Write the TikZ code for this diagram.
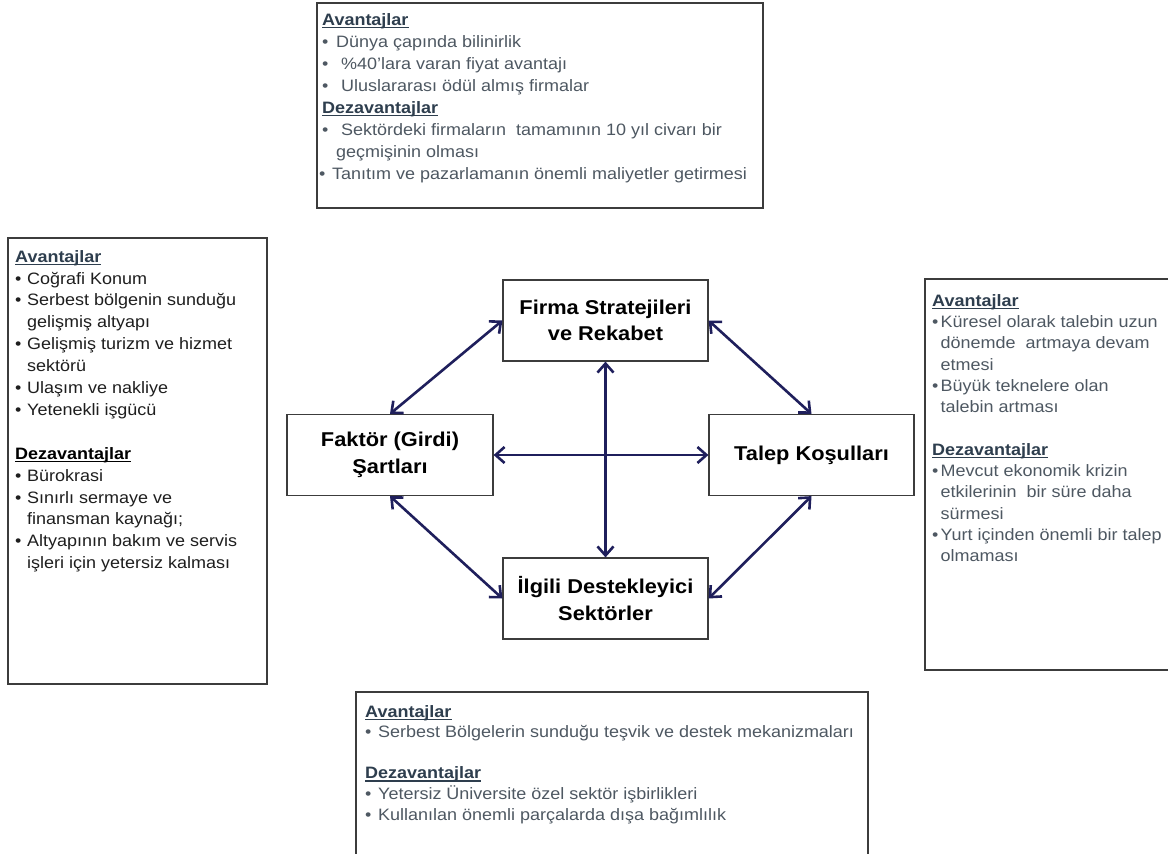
\documentclass[tikz,border=0pt]{standalone}
\usepackage{fontspec}
\setmainfont{Liberation Sans}[FakeStretch=1.09]
\usetikzlibrary{arrows.meta}

\definecolor{navy}{RGB}{31,31,92}
\definecolor{framec}{RGB}{60,60,60}
\definecolor{headc}{RGB}{46,62,78}
\definecolor{itemgray}{RGB}{78,88,98}
\definecolor{itemdark}{RGB}{30,30,30}

% bullet item helpers; \bw is set globally before each note block
\newcommand{\bw}{12pt}
\newcommand{\bul}{\makebox[\bw][l]{•}}
\newcommand{\hang}{\hspace*{\bw}}
\newsavebox{\headbox}
\newcommand{\head}[1]{\sbox{\headbox}{\bfseries #1}\rlap{\rule[-2.6pt]{\wd\headbox}{1.2pt}}\usebox{\headbox}}

\begin{document}
\begin{tikzpicture}[x=1pt,y=-1pt,
  frame/.style={draw=framec,line width=1.3pt},
  core/.style={draw=framec,line width=1.2pt,minimum width=205pt,minimum height=81pt,
    inner sep=0pt,align=center,font=\fontsize{20}{26.5}\selectfont\bfseries},
  link/.style={draw=navy,line width=2.6pt,
    {Straight Barb[length=9pt,width=16pt]}-{Straight Barb[length=9pt,width=16pt]}},
  notes/.style={anchor=north west,inner sep=0pt,align=left}
]
\useasboundingbox (0,0) rectangle (1168,854);
\fill[white] (0,0) rectangle (1168,854);

% the four determinants
\node[core] (firma)  at (605.5,320.5) {Firma Stratejileri\\ve Rekabet};
\node[core,minimum width=206pt] (faktor) at (390,455) {Faktör (Girdi)\\Şartları};
\node[core] (talep)  at (811.5,455) {Talep Koşulları};
\node[core] (ilgili) at (605.5,598.5) {İlgili Destekleyici\\Sektörler};

% mutual links
\draw[link] (firma.west)  -- (faktor.north);
\draw[link] (firma.east)  -- (talep.north);
\draw[link] (faktor.south) -- (ilgili.west);
\draw[link] (talep.south) -- (ilgili.east);
\draw[link] (faktor.east) -- (talep.west);
\draw[link] (firma.south) -- (ilgili.north);

% note frames
\draw[frame] (317,3) rectangle (763,208);
\draw[frame] (8,238) rectangle (267,684);
\draw[frame] (925,279) rectangle (1180,670);
\draw[frame] (356,692) rectangle (868,870);

% firm strategy notes
\gdef\bw{14pt}
\node[notes,font=\fontsize{16.5}{22.1}\selectfont,text=itemgray] (topnotes) at (322,13) {%
  \textcolor{headc}{\head{Avantajlar}}\\
  \bul Dünya çapında bilinirlik\\
  \bul\ \%40’lara varan fiyat avantajı\\
  \bul\ Uluslararası ödül almış firmalar\\
  \textcolor{headc}{\head{Dezavantajlar}}\\
  \bul\ Sektördeki firmaların\ \ tamamının\ 10 yıl civarı bir\\
  \hang geçmişinin olması\\
  \hspace*{-3pt}\makebox[13pt][l]{•}Tanıtım\ ve\ pazarlamanın önemli maliyetler getirmesi};

% factor condition notes
\gdef\bw{12pt}
\node[notes,font=\fontsize{16.5}{21.9}\selectfont,text=itemdark] (leftnotes) at (15,250) {%
  \textcolor{headc}{\head{Avantajlar}}\\
  \bul Coğrafi Konum\\
  \bul Serbest bölgenin sunduğu\\
  \hang gelişmiş\ altyapı\\
  \bul Gelişmiş\ turizm ve hizmet\\
  \hang sektörü\\
  \bul Ulaşım\ ve\ nakliye\\
  \bul Yetenekli\ işgücü\\[21.9pt]
  \textcolor{black}{\head{Dezavantajlar}}\\
  \bul Bürokrasi\\
  \bul Sınırlı sermaye ve\\
  \hang finansman kaynağı;\\
  \bul Altyapının bakım ve servis\\
  \hang işleri için yetersiz kalması};

% demand condition notes
\gdef\bw{8.5pt}
\node[notes,font=\fontsize{16.5}{21.3}\selectfont,text=itemgray] (rightnotes) at (932,294) {%
  \textcolor{headc}{\head{Avantajlar}}\\
  \bul Küresel olarak talebin uzun\\
  \hang dönemde\ \ artmaya devam\\
  \hang etmesi\\
  \bul Büyük teknelere olan\\
  \hang talebin artması\\[21.3pt]
  \textcolor{headc}{\head{Dezavantajlar}}\\
  \bul Mevcut ekonomik krizin\\
  \hang etkilerinin\ \ bir süre daha\\
  \hang sürmesi\\
  \bul Yurt içinden önemli\ bir talep\\
  \hang olmaması};

% supporting sector notes
\gdef\bw{13pt}
\node[notes,font=\fontsize{16.5}{20.6}\selectfont,text=itemgray] (bottomnotes) at (365,705) {%
  \textcolor{headc}{\head{Avantajlar}}\\
  \bul Serbest Bölgelerin sunduğu teşvik ve destek mekanizmaları\\[20.6pt]
  \textcolor{headc}{\head{Dezavantajlar}}\\
  \bul Yetersiz Üniversite özel sektör işbirlikleri\\
  \bul Kullanılan önemli parçalarda dışa bağımlılık};
\end{tikzpicture}
\end{document}
